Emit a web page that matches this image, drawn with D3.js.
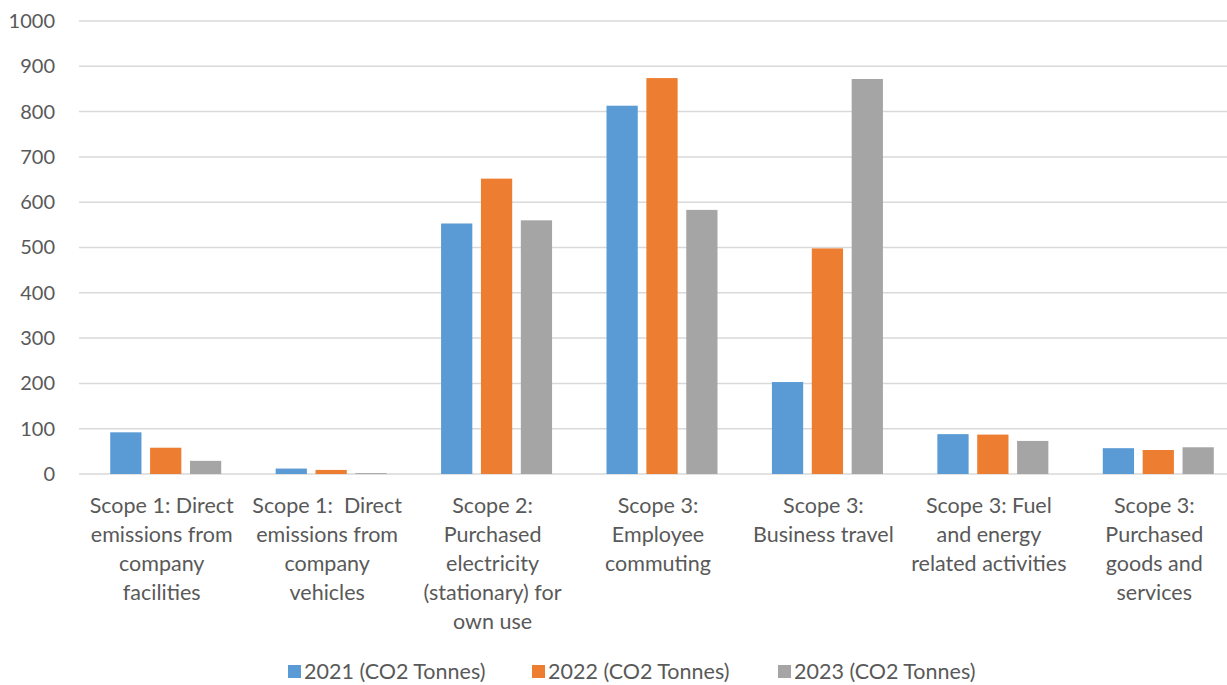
<!DOCTYPE html>
<html>
<head>
<meta charset="utf-8">
<script src="https://cdn.jsdelivr.net/npm/d3@7"></script>
<style>
  body { margin: 0; background: #fff; }
  text { font-family: Lato, "Open Sans", sans-serif; fill: #595959; }
</style>
</head>
<body>
<svg id="chart" width="1227" height="685"></svg>
<script>
// categories, one string per line as shown under the axis
let categories = [
  ["Scope 1: Direct", "emissions from", "company", "facilities"],
  ["Scope 1:  Direct", "emissions from", "company", "vehicles"],
  ["Scope 2:", "Purchased", "electricity", "(stationary) for", "own use"],
  ["Scope 3:", "Employee", "commuting"],
  ["Scope 3:", "Business travel"],
  ["Scope 3: Fuel", "and energy", "related activities"],
  ["Scope 3:", "Purchased", "goods and", "services"]
];
let seriesNames = ["2021 (CO2 Tonnes)", "2022 (CO2 Tonnes)", "2023 (CO2 Tonnes)"];
let values2021 = [92, 12, 553, 813, 203, 88, 57];
let values2022 = [58, 9, 652, 874, 498, 87, 53];
let values2023 = [29, 2, 560, 583, 872, 73, 59];
let yTicks = [0, 100, 200, 300, 400, 500, 600, 700, 800, 900, 1000];
let colors = ["#5b9bd5", "#ed7d31", "#a5a5a5"];

// the plot area runs a little past the right edge of the picture
let margin = { top: 21, left: 79, bottom: 211 };
let width = 1227, height = 685;
let bodyWidth = 1158;
let bodyHeight = height - margin.top - margin.bottom;

let svg = d3.select("#chart");
let body = svg.append("g").attr("transform", "translate(" + margin.left + "," + margin.top + ")");

let xScale = d3.scaleBand()
  .domain(d3.range(categories.length))
  .range([0, bodyWidth]);
let barStep = 37, barWidth = 29;
let xInner = d3.scaleBand()
  .domain(d3.range(3))
  .range([0, barStep * 3])
  .paddingInner((barStep - barWidth) / barStep)
  .paddingOuter(0);
let yScale = d3.scaleLinear().domain([0, 1000]).range([bodyHeight, 0]);

// gridlines
body.append("g")
  .selectAll("line")
  .data(yTicks)
  .enter().append("line")
  .attr("x1", 0).attr("x2", bodyWidth)
  .attr("y1", d => yScale(d)).attr("y2", d => yScale(d))
  .attr("stroke", "#d9d9d9")
  .attr("stroke-width", 1.5);

// y axis labels
let yAxis = body.append("g")
  .call(d3.axisLeft(yScale).tickValues(yTicks).tickFormat(d3.format("d")).tickSize(0).tickPadding(24));
yAxis.select(".domain").remove();
yAxis.selectAll("text")
  .style("font-size", "20px")
  .style("font-family", "Lato, 'Open Sans', sans-serif")
  .attr("fill", "#595959");

// bars
let allSeries = [values2021, values2022, values2023];
let groupWidth = barStep * 3 - (barStep - barWidth);
let groups = body.selectAll(".group")
  .data(categories)
  .enter().append("g")
  .attr("class", "group")
  .attr("transform", (d, i) => "translate(" + (xScale(i) + (xScale.bandwidth() - groupWidth) / 2) + ",0)");

groups.selectAll("rect")
  .data((d, i) => allSeries.map((s, k) => ({ k: k, v: s[i] })))
  .enter().append("rect")
  .attr("x", d => xInner(d.k))
  .attr("width", xInner.bandwidth())
  .attr("y", d => yScale(d.v))
  .attr("height", d => bodyHeight - yScale(d.v))
  .attr("fill", d => colors[d.k]);

// category labels
let labels = body.append("g");
categories.forEach((lines, i) => {
  let cx = xScale(i) + xScale.bandwidth() / 2;
  let t = labels.append("text")
    .attr("text-anchor", "middle")
    .attr("x", cx)
    .attr("y", bodyHeight + 39)
    .style("font-size", "21.5px");
  lines.forEach((ln, j) => {
    t.append("tspan")
      .attr("x", cx)
      .attr("dy", j === 0 ? 0 : 29)
      .attr("xml:space", "preserve")
      .text(ln);
  });
});

// legend
let legendX = [288, 532, 778];
let legend = svg.append("g");
seriesNames.forEach((name, k) => {
  legend.append("rect")
    .attr("x", legendX[k]).attr("y", 665)
    .attr("width", 13).attr("height", 13)
    .attr("fill", colors[k]);
  legend.append("text")
    .attr("x", legendX[k] + 16).attr("y", 679)
    .style("font-size", "21.5px")
    .text(name);
});
</script>
</body>
</html>
